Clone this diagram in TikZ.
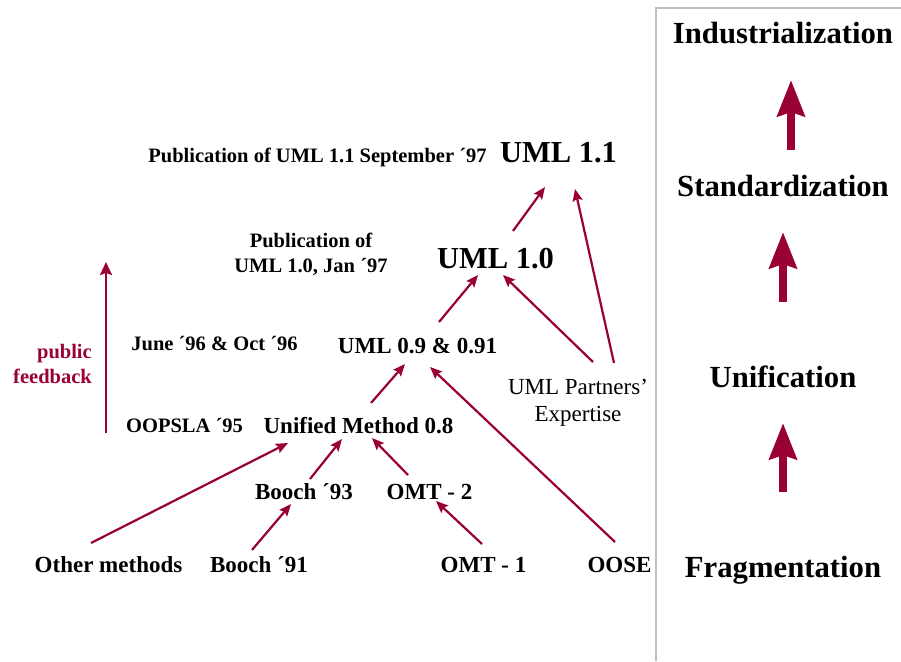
\documentclass[tikz,border=0pt]{standalone}
\usepackage{fontspec}
\setmainfont{Liberation Serif}
\usetikzlibrary{arrows.meta}
\definecolor{umlred}{HTML}{990033}
\definecolor{framegray}{HTML}{BFBFBF}
\begin{document}
\begin{tikzpicture}[x=1pt,y=1pt,
        lbl/.style={inner sep=0pt,anchor=base,font=\bfseries\fontsize{23}{26}\selectfont},
        note/.style={inner sep=0pt,anchor=base,font=\bfseries\fontsize{20.5}{25}\selectfont},
        version/.style={inner sep=0pt,anchor=base,font=\bfseries\fontsize{30.5}{34}\selectfont},
        stage/.style={inner sep=0pt,anchor=base,font=\bfseries\fontsize{30.7}{34}\selectfont},
        link/.style={draw=umlred,line width=2.2pt,-{Stealth[length=12pt,width=10pt,inset=2pt]}},
        stagearrow/.style={draw=umlred,line width=8pt,-{Stealth[length=36pt,width=27pt,inset=4pt]}}]
    \useasboundingbox (0,0) rectangle (901,661);
    % frame of the right column
    \draw[framegray,line width=1.5pt] (901,653) -- (656,653) -- (656,0);
    \foreach \y/\name/\txt in {617/ind/Industrialization,464/stand/Standardization,273/unif/Unification,84/frag/Fragmentation}
        \node[stage] (\name) at (783,\y) {\txt};
    \draw[stagearrow] ([shift={(8,47)}]stand.base) -- ([shift={(8,-36)}]ind.base);
    \draw[stagearrow] ([shift={(0,86)}]unif.base) -- ([shift={(0,-35)}]stand.base);
    \draw[stagearrow] ([shift={(0,85)}]frag.base) -- ([shift={(0,-35)}]unif.base);
    % methods
    \node[lbl] (om) at (108.5,89) {Other methods};
    \node[lbl] (b91) at (259,89) {Booch ´91};
    \node[lbl] (omt1) at (483.5,89) {OMT - 1};
    \node[lbl] (oose) at (619.5,89) {OOSE};
    \node[lbl] (b93) at (304,161) {Booch ´93};
    \node[lbl] (omt2) at (429.5,161) {OMT - 2};
    \node[lbl] (um) at (358.5,227) {Unified Method 0.8};
    \node[lbl] (uml09) at (417.5,307) {UML 0.9 \& 0.91};
    \node[version] (uml10) at (495.5,392) {UML 1.0};
    \node[version] (uml11) at (558.5,498) {UML 1.1};
    \node[inner sep=0pt,align=center,font=\fontsize{23}{27}\selectfont] (partners) at (578,258) {UML Partners’\\Expertise};
    % dates
    \node[note] (oopsla) at (184.5,228) {OOPSLA ´95};
    \node[note] (june) at (214.5,310) {June ´96 \& Oct ´96};
    \node[note,anchor=center,align=center] (pub10) at (311,406.5) {Publication of\\UML 1.0, Jan ´97};
    \node[note] (pub11) at (317.5,498) {Publication of UML 1.1 September ´97};
    \node[note,anchor=north east,align=right,text=umlred] (feedback) at (92,317) {public\\feedback};
    \coordinate (fbtail) at (106,228);
    \coordinate (fbtip) at (106,399);
    \draw[link,-{Stealth[length=13pt,width=12pt,inset=2pt]}] (fbtail) -- (fbtip);
    % connectors
    \draw[link] ([shift={(-17.5,29)}]om.base) -- ([shift={(-70.5,-9)}]um.base);
    \draw[link] ([shift={(6,21)}]b93.base) -- ([shift={(-16.5,-5)}]um.base);
    \draw[link] ([shift={(-21.5,25)}]omt2.base) -- ([shift={(13.5,-4)}]um.base);
    \draw[link] ([shift={(-7,22)}]b91.base) -- ([shift={(-13,-4)}]b93.base);
    \draw[link] ([shift={(-1.5,28)}]omt1.base) -- ([shift={(6.5,-1)}]omt2.base);
    \draw[link] ([shift={(12.5,31)}]um.base) -- ([shift={(-12.5,-10)}]uml09.base);
    \draw[link] ([shift={(-4.5,30)}]oose.base) -- ([shift={(12.5,-13)}]uml09.base);
    \draw[link] ([shift={(21.5,32)}]uml09.base) -- ([shift={(-17.5,-6)}]uml10.base);
    \draw[link] ([shift={(15,41)}]partners.center) -- ([shift={(7.5,-6)}]uml10.base);
    \draw[link] ([shift={(17.5,38)}]uml10.base) -- ([shift={(-13.5,-24)}]uml11.base);
    \draw[link] ([shift={(36,40)}]partners.center) -- ([shift={(16.5,-26)}]uml11.base);
\end{tikzpicture}
\end{document}
